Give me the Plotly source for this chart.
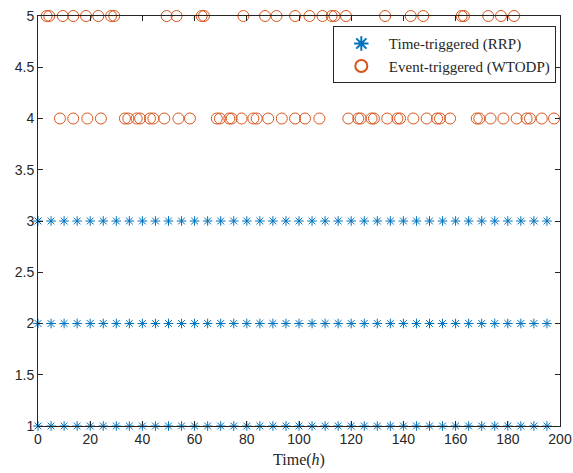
import plotly.graph_objects as go

# Time-triggered (RRP) sampling instants, same for levels 1, 2, 3
time_rrp = [0, 5, 10, 15, 20, 25, 30, 35, 40, 45, 50, 55, 60, 65, 70, 75, 80, 85, 90, 95,
            100, 105, 110, 115, 120, 125, 130, 135, 140, 145, 150, 155, 160, 165, 170, 175,
            180, 185, 190, 195]
rrp_levels = [1, 2, 3]

# Event-triggered (WTODP) instants at level 4
time_wtodp_4 = [8.4, 13.5, 18.9, 24.1, 33.3, 34.6, 37.8, 39.1, 42.9, 44.2, 48.4, 53.8, 58.2,
                68.5, 69.7, 73.3, 74.2, 78.0, 82.5, 83.8, 88.2, 93.4, 98.5, 102.3, 107.8,
                118.9, 122.7, 123.6, 127.8, 128.7, 133.8, 137.7, 138.7, 143.8, 148.9, 152.9,
                154.0, 157.9, 168.1, 169.1, 173.4, 178.3, 183.4, 187.2, 188.5, 193.0, 197.7]
# Event-triggered (WTODP) instants at level 5
time_wtodp_5 = [3.3, 4.3, 9.5, 13.5, 18.4, 23.1, 28.0, 29.2, 49.3, 53.1, 62.7, 63.6, 78.7,
                87.0, 91.4, 98.5, 104.0, 109.0, 112.5, 113.6, 118.0, 133.0, 142.8, 147.6,
                162.3, 163.2, 172.5, 177.4, 182.4]

x_ticks = [0, 20, 40, 60, 80, 100, 120, 140, 160, 180, 200]
y_ticks = [1, 1.5, 2, 2.5, 3, 3.5, 4, 4.5, 5]
y_tick_labels = ["1", "1.5", "2", "2.5", "3", "3.5", "4", "4.5", "5"]

blue = "#0072BD"
orange = "#D95319"

rrp_x, rrp_y = [], []
for lv in rrp_levels:
    rrp_x += time_rrp
    rrp_y += [lv] * len(time_rrp)

wt_x = time_wtodp_4 + time_wtodp_5
wt_y = [4] * len(time_wtodp_4) + [5] * len(time_wtodp_5)

fig = go.Figure()
fig.add_trace(go.Scatter(
    x=rrp_x, y=rrp_y, mode="markers", name="Time-triggered (RRP)",
    marker=dict(symbol="asterisk-open", size=8, color=blue, line=dict(color=blue, width=1)),
    cliponaxis=False))
fig.add_trace(go.Scatter(
    x=wt_x, y=wt_y, mode="markers", name="Event-triggered (WTODP)",
    marker=dict(symbol="circle-open", size=11, color=orange, line=dict(color=orange, width=1)),
    cliponaxis=False))

axis_col = "#262626"
fig.update_layout(
    width=573, height=473,
    margin=dict(l=38, r=13, t=16, b=47, autoexpand=False),
    plot_bgcolor="white", paper_bgcolor="white",
    showlegend=True,
    legend=dict(
        x=0.992, y=0.975, xanchor="right", yanchor="top",
        bgcolor="white", bordercolor=axis_col, borderwidth=1,
        font=dict(family="Liberation Serif", size=15, color=axis_col),
        tracegroupgap=0, itemsizing="constant", itemwidth=45),
    font=dict(family="Liberation Sans", size=14, color=axis_col),
)
fig.update_xaxes(
    range=[0, 200], tickvals=x_ticks, ticks="inside", ticklen=5, tickcolor=axis_col,
    showline=True, linecolor=axis_col, linewidth=1, mirror="ticks", showgrid=False,
    zeroline=False, automargin=False,
    tickfont=dict(family="Liberation Sans", size=14, color=axis_col),
    title=dict(text="Time(<i>h</i>)", font=dict(family="Liberation Serif", size=16, color=axis_col),
               standoff=8))
fig.update_yaxes(
    range=[1, 5], tickvals=y_ticks, ticktext=y_tick_labels, ticks="inside", ticklen=5,
    tickcolor=axis_col, showline=True, linecolor=axis_col, linewidth=1, mirror="ticks",
    showgrid=False, zeroline=False, automargin=False,
    tickfont=dict(family="Liberation Sans", size=14, color=axis_col))

fig.write_html("out.html")
